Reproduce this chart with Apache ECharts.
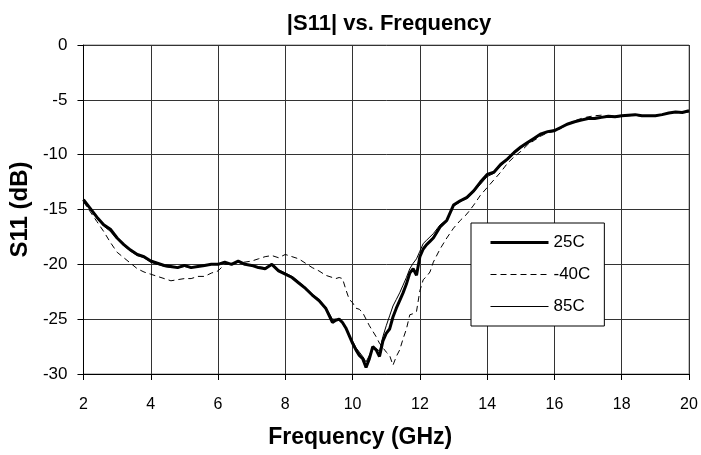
<!DOCTYPE html>
<html>
<head>
<meta charset="utf-8">
<script src="https://cdn.jsdelivr.net/npm/echarts@6/dist/echarts.min.js"></script>
<style>
  html, body { margin: 0; padding: 0; background: #fff; }
  #s11 { width: 701px; height: 455px; }
</style>
</head>
<body>
<div id="s11"></div>
<script>
// frequency points (GHz), shared by all three traces
const freq = [
  2.0, 2.2, 2.4, 2.6, 2.8, 3.0, 3.2, 3.4, 3.6, 3.8, 4.0, 4.2, 4.4, 4.6, 4.8,
  5.0, 5.2, 5.4, 5.6, 5.8, 6.0, 6.2, 6.4, 6.6, 6.8, 7.0, 7.2, 7.4, 7.6, 7.8,
  8.0, 8.2, 8.4, 8.6, 8.8, 9.0, 9.2, 9.4, 9.5, 9.6, 9.7, 9.8, 9.9, 10.0, 10.1,
  10.2, 10.3, 10.4, 10.5, 10.6, 10.7, 10.8, 10.9, 11.0, 11.1, 11.2, 11.3, 11.4,
  11.5, 11.6, 11.7, 11.8, 11.9, 12.0, 12.1, 12.2, 12.3, 12.4, 12.6, 12.8, 13.0,
  13.2, 13.4, 13.6, 13.8, 14.0, 14.2, 14.4, 14.6, 14.8, 15.0, 15.2, 15.4, 15.6,
  15.8, 16.0, 16.2, 16.4, 16.6, 16.8, 17.0, 17.2, 17.4, 17.6, 17.8, 18.0, 18.2,
  18.4, 18.6, 18.8, 19.0, 19.2, 19.4, 19.6, 19.8, 20.0
];

const s11_25C = [
  -14.1, -14.9, -15.7, -16.4, -16.8, -17.6, -18.2, -18.7, -19.1, -19.3, -19.7, -19.9, -20.1, -20.2, -20.3,
  -20.1, -20.3, -20.2, -20.1, -20.0, -20.0, -19.8, -20.0, -19.7, -20.0, -20.1, -20.3, -20.4, -20.0, -20.6,
  -20.9, -21.2, -21.7, -22.2, -22.8, -23.3, -24.0, -25.3, -25.1, -25.0, -25.3, -25.8, -26.5, -27.2, -27.8,
  -28.3, -28.6, -29.4, -28.6, -27.5, -27.8, -28.4, -27.0, -26.3, -25.9, -24.8, -24.0, -23.3,
  -22.6, -21.8, -20.8, -20.4, -21.0, -19.3, -18.6, -18.2, -17.9, -17.6, -16.6, -16.0, -14.6,
  -14.2, -13.9, -13.3, -12.5, -11.8, -11.6, -10.9, -10.4, -9.8, -9.3, -8.9, -8.5, -8.1,
  -7.9, -7.8, -7.5, -7.2, -7.0, -6.85, -6.7, -6.7, -6.6, -6.5, -6.55, -6.45, -6.4,
  -6.35, -6.45, -6.45, -6.45, -6.35, -6.2, -6.1, -6.15, -6.0
];

const s11_m40C = [
  -14.3, -15.2, -16.1, -17.0, -18.0, -18.9, -19.4, -19.9, -20.4, -20.7, -20.9, -21.1, -21.3, -21.5, -21.4,
  -21.3, -21.3, -21.1, -21.1, -20.8, -20.6, -20.0, -20.0, -19.8, -19.8, -19.7, -19.5, -19.3, -19.2, -19.4,
  -19.1, -19.3, -19.5, -19.9, -20.3, -20.6, -21.0, -21.2, -21.3, -21.2, -21.3, -22.3, -23.2, -23.5, -24.0,
  -24.1, -24.4, -25.0, -25.6, -26.1, -26.6, -27.2, -27.6, -28.0, -28.3, -29.2, -28.4, -27.8,
  -26.8, -25.9, -24.6, -24.5, -24.3, -22.4, -21.4, -21.1, -20.7, -19.8, -18.6, -17.6, -16.7,
  -16.0, -15.4, -14.6, -13.7, -13.0, -12.3, -11.6, -10.8, -10.2, -9.7, -9.1, -8.7, -8.3,
  -8.0, -7.9, -7.6, -7.2, -6.9, -6.7, -6.55, -6.45, -6.4, -6.5, -6.6, -6.5, -6.45,
  -6.4, -6.5, -6.5, -6.45, -6.3, -6.2, -6.1, -6.2, -6.1
];

const s11_85C = [
  -14.2, -15.0, -15.8, -16.5, -17.0, -17.7, -18.3, -18.8, -19.2, -19.4, -19.8, -20.0, -20.2, -20.3, -20.3,
  -20.2, -20.3, -20.2, -20.1, -20.0, -20.0, -19.9, -20.0, -19.8, -20.0, -20.1, -20.2, -20.3, -20.1, -20.5,
  -20.8, -21.1, -21.6, -22.1, -22.7, -23.2, -23.9, -25.0, -25.0, -25.1, -25.4, -25.9, -26.5, -27.0, -27.6,
  -28.0, -28.4, -28.9, -28.3, -27.6, -27.7, -27.9, -26.6, -25.6, -24.7, -23.8, -23.2, -22.6,
  -21.9, -21.2, -20.4, -19.9, -19.5, -18.8, -18.1, -17.8, -17.5, -17.2, -16.4, -15.9, -14.7,
  -14.3, -14.0, -13.4, -12.7, -12.0, -11.7, -11.0, -10.5, -9.9, -9.4, -9.0, -8.6, -8.2,
  -7.95, -7.8, -7.5, -7.25, -7.0, -6.8, -6.65, -6.6, -6.55, -6.5, -6.5, -6.45, -6.4,
  -6.4, -6.45, -6.5, -6.45, -6.35, -6.2, -6.1, -6.15, -6.0
];

const seriesNames = ["25C", "-40C", "85C"];

const font = "Liberation Sans, Arial, sans-serif";

function pairs(vals) {
  return freq.map((f, i) => [f, vals[i]]);
}

const chart = echarts.init(document.getElementById("s11"));
chart.setOption({
  animation: false,
  backgroundColor: "#fff",
  title: {
    text: "|S11| vs. Frequency",
    left: 384,
    textAlign: "center",
    top: 8,
    textStyle: { fontFamily: font, fontSize: 22, fontWeight: "bold", color: "#000" }
  },
  grid: {
    left: 79,
    right: 12,
    top: 45,
    bottom: 81,
    show: true,
    borderColor: "#888",
    borderWidth: 1
  },
  legend: {
    orient: "vertical",
    left: 471,
    top: 223,
    padding: [11, 14, 11, 18],
    itemWidth: 58,
    itemHeight: 14,
    itemGap: 15,
    backgroundColor: "#fff",
    borderColor: "#000",
    borderWidth: 1,
    borderRadius: 0,
    itemStyle: { opacity: 0 }, // line only, no marker dot
    data: [
      { name: seriesNames[0], lineStyle: { width: 3, type: "solid" } },
      { name: seriesNames[1], lineStyle: { width: 1, type: [6, 4] } },
      { name: seriesNames[2], lineStyle: { width: 1, type: "solid" } }
    ],
    textStyle: { fontFamily: font, fontSize: 17, color: "#000" }
  },
  xAxis: {
    type: "value",
    min: 2,
    max: 20,
    interval: 2,
    name: "Frequency (GHz)",
    nameLocation: "middle",
    nameGap: 52,
    nameTextStyle: {
      fontFamily: font, fontSize: 23, fontWeight: "bold", color: "#000",
      padding: [0, 52, 0, 0]
    },
    axisLine: { onZero: false, lineStyle: { color: "#000", width: 1 } },
    axisTick: { show: true, inside: false, length: 6, lineStyle: { color: "#000" } },
    axisLabel: { fontFamily: font, fontSize: 16, color: "#000", margin: 23 },
    splitLine: { show: true, lineStyle: { color: "#333", width: 1 } }
  },
  yAxis: {
    type: "value",
    min: -30,
    max: 0,
    interval: 5,
    name: "S11 (dB)",
    nameLocation: "middle",
    nameGap: 47,
    nameTextStyle: { fontFamily: font, fontSize: 24, fontWeight: "bold", color: "#000" },
    axisLine: { show: true, onZero: false, lineStyle: { color: "#000", width: 1 } },
    axisTick: { show: true, inside: false, length: 6, lineStyle: { color: "#000" } },
    axisLabel: { fontFamily: font, fontSize: 17, color: "#000", margin: 16 },
    splitLine: { show: true, lineStyle: { color: "#333", width: 1 } }
  },
  series: [
    {
      type: "line",
      name: "25C",
      data: pairs(s11_25C),
      showSymbol: false,
      symbol: "none",
      itemStyle: { color: "#000" },
      lineStyle: { color: "#000", width: 3 }
    },
    {
      type: "line",
      name: "-40C",
      data: pairs(s11_m40C),
      showSymbol: false,
      symbol: "none",
      itemStyle: { color: "#000" },
      lineStyle: { color: "#000", width: 1, type: [6, 4] }
    },
    {
      type: "line",
      name: "85C",
      data: pairs(s11_85C),
      showSymbol: false,
      symbol: "none",
      itemStyle: { color: "#000" },
      lineStyle: { color: "#000", width: 1 }
    }
  ]
});
</script>
</body>
</html>
